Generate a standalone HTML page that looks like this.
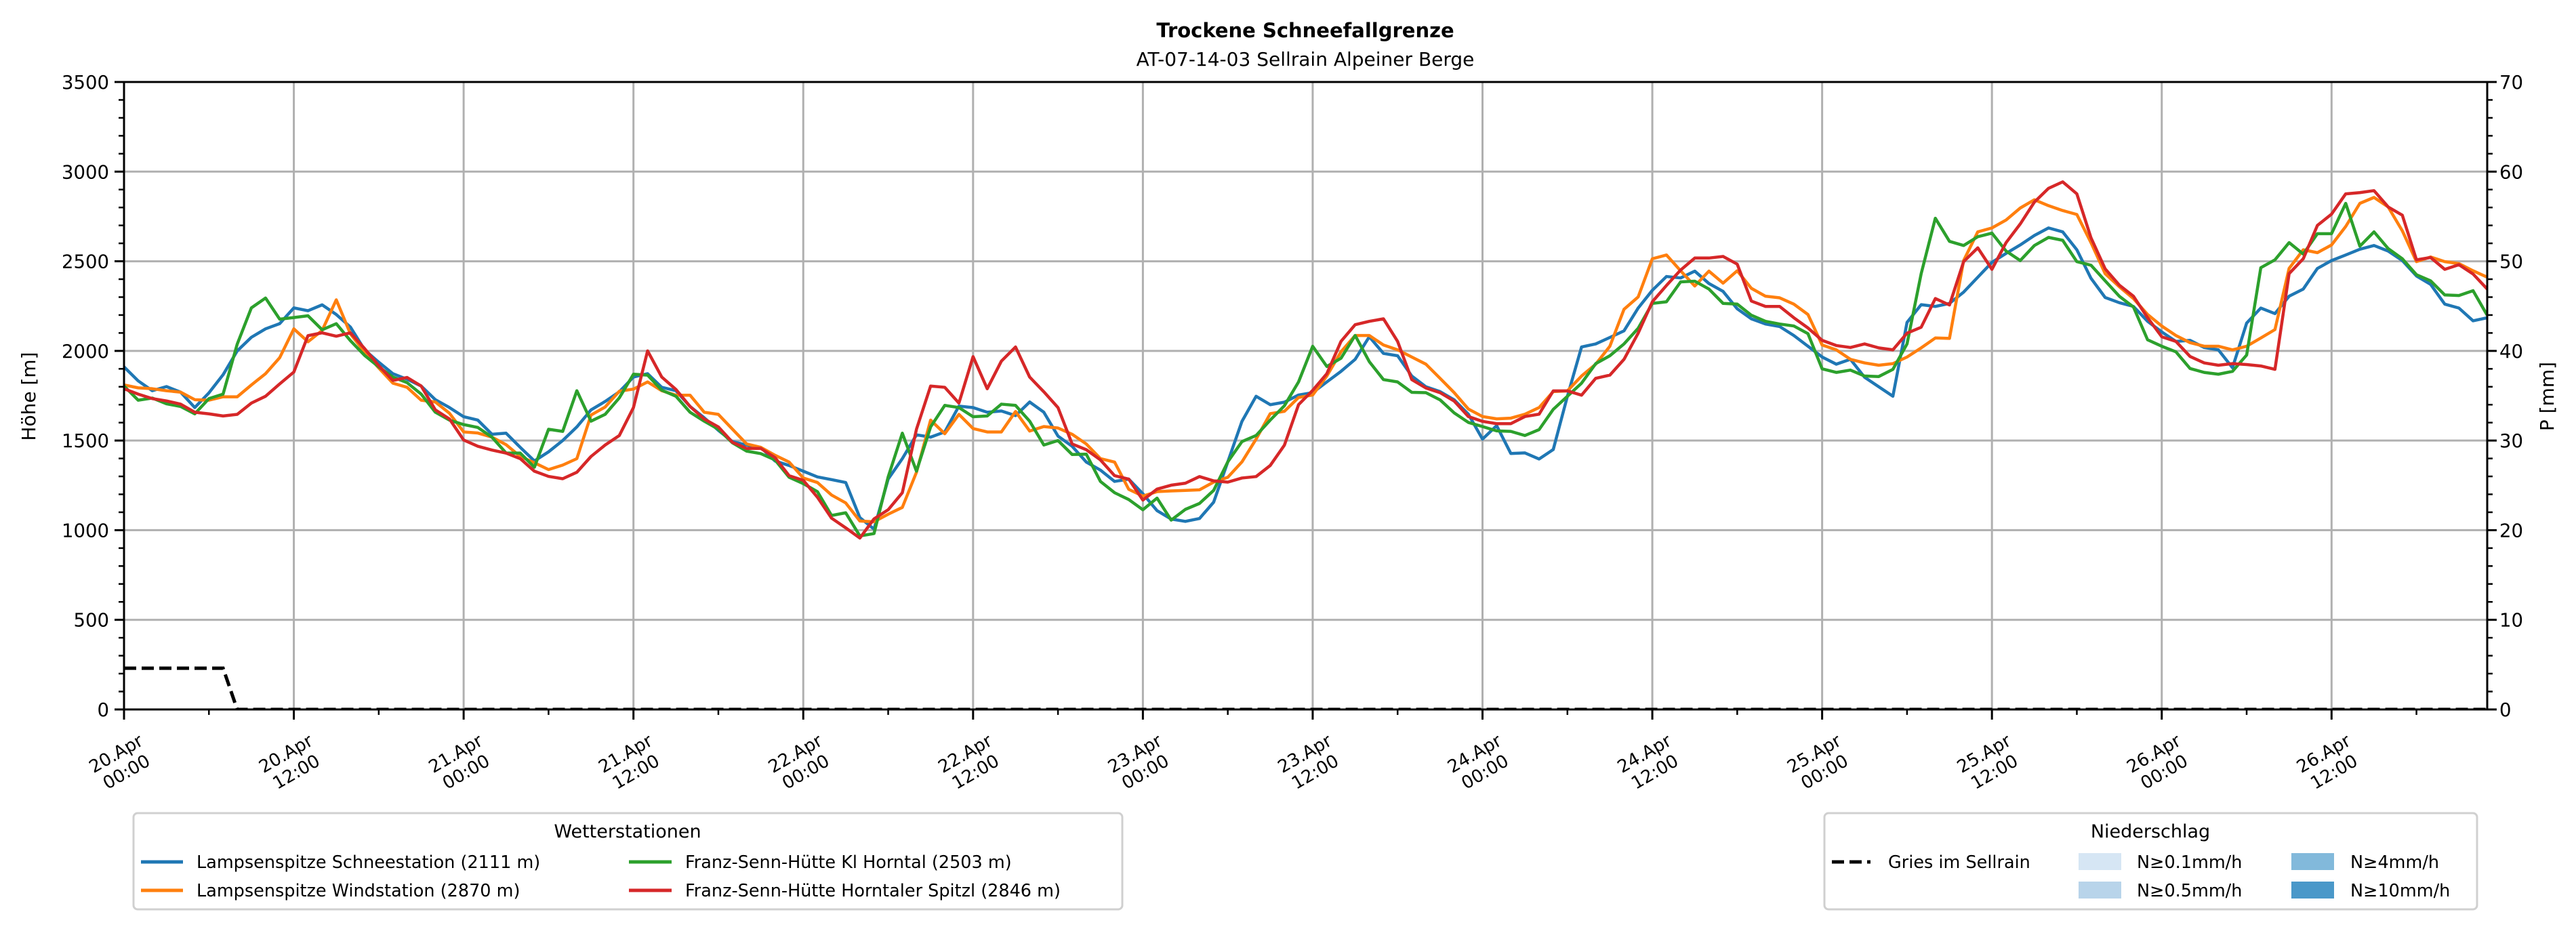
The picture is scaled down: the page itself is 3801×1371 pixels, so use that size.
<!DOCTYPE html>
<html><head><meta charset="utf-8"><style>
html,body{margin:0;padding:0;background:#fff;}
svg{display:block;font-family:"DejaVu Sans","Liberation Sans",sans-serif;}
</style></head><body>
<svg id="chart" xmlns="http://www.w3.org/2000/svg" width="3801" height="1371" viewBox="0 0 3801 1371">
<rect width="3801" height="1371" fill="#fff"/>
<text x="1926" y="55" text-anchor="middle" font-size="29" font-weight="bold">Trockene Schneefallgrenze</text>
<text x="1926" y="97" text-anchor="middle" font-size="28">AT-07-14-03 Sellrain Alpeiner Berge</text>
<g id="grid"></g>
<g id="series"></g>
<g id="axes"></g>
<text transform="translate(44,585) rotate(-90)" text-anchor="middle" dominant-baseline="middle" font-size="28">Höhe [m]</text>
<text transform="translate(3760,585) rotate(-90)" text-anchor="middle" dominant-baseline="middle" font-size="28">P [mm]</text>

<g>
<rect x="197" y="1200" width="1459" height="142" rx="6" fill="#fff" stroke="#d0d0d0" stroke-width="3"/>
<text x="926" y="1236" text-anchor="middle" font-size="27">Wetterstationen</text>
<g><line x1="208" y1="1272" x2="270" y2="1272" stroke="#1f77b4" stroke-width="5"/><text x="290" y="1281" font-size="25.5">Lampsenspitze Schneestation (2111 m)</text></g>
<g><line x1="208" y1="1314" x2="270" y2="1314" stroke="#ff7f0e" stroke-width="5"/><text x="290" y="1323" font-size="25.5">Lampsenspitze Windstation (2870 m)</text></g>
<g><line x1="928" y1="1272" x2="991" y2="1272" stroke="#2ca02c" stroke-width="5"/><text x="1011" y="1281" font-size="25.5">Franz-Senn-Hütte Kl Horntal (2503 m)</text></g>
<g><line x1="928" y1="1314" x2="991" y2="1314" stroke="#d62728" stroke-width="5"/><text x="1011" y="1323" font-size="25.5">Franz-Senn-Hütte Horntaler Spitzl (2846 m)</text></g>
</g>

<g>
<rect x="2692" y="1200" width="963" height="142" rx="6" fill="#fff" stroke="#d0d0d0" stroke-width="3"/>
<text x="3173" y="1236" text-anchor="middle" font-size="27">Niederschlag</text>
<g><line x1="2703" y1="1272" x2="2760" y2="1272" stroke="#000" stroke-width="5" stroke-dasharray="18,8"/><text x="2786" y="1281" font-size="25.5">Gries im Sellrain</text></g>
<g><rect x="3067" y="1259" width="63" height="25" fill="#d6e6f4"/><text x="3153" y="1281" font-size="25.5">N≥0.1mm/h</text></g>
<g><rect x="3067" y="1301" width="63" height="25" fill="#b8d4ea"/><text x="3153" y="1323" font-size="25.5">N≥0.5mm/h</text></g>
<g><rect x="3381" y="1259" width="63" height="25" fill="#82b9db"/><text x="3468" y="1281" font-size="25.5">N≥4mm/h</text></g>
<g><rect x="3381" y="1301" width="63" height="25" fill="#4a98c9"/><text x="3468" y="1323" font-size="25.5">N≥10mm/h</text></g>
</g>
</svg>
<script>
// hourly values starting 20.Apr 00:00
const blueSchnee = [1911,1833,1778,1801,1770,1684,1766,1867,2000,2076,2123,2152,2240,2224,2257,2203,2133,2006,1937,1873,1842,1804,1728,1684,1633,
1614,1535,1541,1462,1386,1437,1500,1576,1671,1718,1772,1854,1873,1797,1778,1690,1627,1557,1494,1475,1462,1386,1361,1329,
1297,1282,1266,1070,1006,1285,1399,1532,1519,1548,1692,1684,1658,1665,1639,1715,1658,1525,1468,1380,1335,1272,1285,1203,
1109,1062,1049,1065,1156,1381,1607,1747,1700,1714,1754,1767,1827,1886,1953,2079,1986,1973,1860,1800,1773,1727,1647,1508,
1583,1428,1431,1397,1450,1747,2022,2039,2075,2112,2239,2338,2415,2407,2445,2376,2332,2235,2179,2150,2136,2086,2026,1966,
1926,1953,1853,1800,1747,2159,2258,2248,2265,2328,2411,2494,2544,2591,2644,2686,2664,2564,2405,2298,2269,2248,2165,2106,
2053,2059,2019,2006,1906,2155,2239,2208,2305,2345,2460,2504,2535,2567,2588,2557,2504,2418,2371,2261,2239,2168,2185];
const orangeWind = [1810,1794,1789,1778,1770,1728,1725,1744,1744,1810,1873,1962,2123,2051,2114,2285,2095,1994,1905,1820,1797,1725,1715,1652,1548,
1542,1519,1477,1411,1376,1338,1363,1399,1642,1687,1775,1787,1827,1778,1753,1753,1658,1646,1563,1481,1462,1418,1380,1291,
1266,1196,1152,1051,1047,1089,1127,1323,1614,1538,1646,1567,1548,1548,1662,1553,1578,1570,1535,1481,1399,1380,1228,1190,
1215,1219,1222,1225,1268,1295,1381,1508,1650,1663,1740,1754,1860,1995,2086,2086,2033,2006,1966,1926,1847,1767,1676,1634,
1621,1625,1647,1684,1773,1777,1860,1926,2026,2232,2301,2514,2535,2447,2362,2445,2378,2447,2349,2305,2296,2261,2203,2033,
2006,1953,1933,1920,1929,1966,2017,2072,2070,2504,2664,2686,2730,2797,2843,2810,2783,2761,2604,2431,2358,2292,2203,2139,
2086,2046,2026,2026,2006,2026,2072,2119,2460,2564,2548,2591,2694,2823,2856,2803,2670,2498,2524,2498,2487,2447,2411];
const greenHorntal = [1804,1725,1737,1705,1690,1649,1734,1759,2038,2240,2295,2177,2186,2196,2118,2152,2057,1975,1911,1854,1823,1759,1658,1614,1589,
1573,1519,1430,1430,1351,1563,1551,1778,1608,1646,1738,1870,1865,1781,1747,1658,1608,1563,1487,1441,1427,1392,1295,1260,
1215,1082,1097,968,981,1297,1541,1329,1576,1696,1684,1633,1637,1703,1696,1608,1475,1500,1422,1424,1272,1209,1171,1114,
1179,1056,1116,1149,1222,1381,1494,1528,1614,1694,1827,2026,1913,1959,2086,1940,1840,1827,1769,1767,1727,1654,1601,1578,
1554,1551,1528,1561,1674,1747,1820,1929,1973,2039,2126,2265,2274,2385,2389,2345,2265,2261,2199,2165,2150,2139,2096,1900,
1880,1893,1860,1857,1897,2039,2431,2740,2611,2588,2637,2657,2557,2504,2588,2633,2617,2498,2478,2391,2305,2245,2062,2026,
1995,1902,1880,1870,1886,1977,2464,2508,2604,2540,2654,2654,2823,2584,2664,2571,2514,2425,2391,2312,2309,2336,2199];
const redSpitzl = [1789,1759,1734,1721,1703,1658,1649,1637,1646,1709,1747,1816,1882,2085,2101,2082,2101,2013,1918,1835,1852,1804,1671,1620,1503,
1468,1447,1430,1399,1329,1300,1287,1323,1411,1475,1528,1684,2000,1854,1785,1690,1620,1576,1490,1456,1456,1405,1304,1278,
1184,1067,1013,956,1063,1114,1209,1563,1804,1797,1709,1968,1789,1943,2022,1854,1772,1684,1481,1449,1392,1304,1285,1168,
1229,1251,1262,1299,1275,1268,1291,1299,1361,1474,1700,1780,1873,2053,2146,2165,2179,2053,1840,1793,1767,1720,1634,1607,
1594,1594,1634,1647,1777,1777,1753,1847,1865,1953,2099,2274,2365,2451,2518,2518,2527,2484,2278,2248,2248,2185,2128,2059,
2030,2019,2039,2017,2006,2099,2132,2292,2256,2498,2575,2455,2604,2708,2830,2907,2943,2876,2631,2458,2367,2305,2185,2079,
2053,1969,1933,1920,1929,1924,1916,1897,2431,2514,2700,2763,2876,2883,2894,2803,2757,2508,2521,2455,2481,2429,2345];
const griesHours = [0,7,8,167];
const griesValues = [230,230,0,0];
const yTicks = [0,500,1000,1500,2000,2500,3000,3500];
const y2Ticks = [0,10,20,30,40,50,60,70];
const xTickLabels = [["20.Apr","00:00"],["20.Apr","12:00"],["21.Apr","00:00"],["21.Apr","12:00"],["22.Apr","00:00"],["22.Apr","12:00"],["23.Apr","00:00"],["23.Apr","12:00"],["24.Apr","00:00"],["24.Apr","12:00"],["25.Apr","00:00"],["25.Apr","12:00"],["26.Apr","00:00"],["26.Apr","12:00"]];

const NS="http://www.w3.org/2000/svg";
const L=183,R=3670,T=121,B=1047,HMAX=167,YMAX=3500,Y2MAX=70;
const xs=h=>L+(R-L)*h/HMAX;
const ys=v=>B-(B-T)*v/YMAX;
const y2s=v=>B-(B-T)*v/Y2MAX;
function mk(tag,attrs,parent){const e=document.createElementNS(NS,tag);for(const k in attrs)e.setAttribute(k,attrs[k]);parent.appendChild(e);return e;}
const grid=document.getElementById('grid'),axes=document.getElementById('axes'),ser=document.getElementById('series');

yTicks.forEach(v=>{
  const g=mk('line',{x1:L,x2:R,y1:ys(v),y2:ys(v),stroke:'#b0b0b0','stroke-width':3},grid);
  
  
  const t=mk('line',{x1:L-14,x2:L,y1:ys(v),y2:ys(v),stroke:'#000','stroke-width':3},axes);
  
  
  const tx=mk('text',{x:L-22,y:ys(v)+10,'text-anchor':'end','font-size':27.5},axes);
  tx.textContent=v;
  
  
});
for(let v=100;v<YMAX;v+=100){ if(v%500===0)continue;
  const t=mk('line',{x1:L-8,x2:L,y1:ys(v),y2:ys(v),stroke:'#000','stroke-width':2.5},axes);
  
  
}
y2Ticks.forEach(v=>{
  const t=mk('line',{x1:R,x2:R+14,y1:y2s(v),y2:y2s(v),stroke:'#000','stroke-width':3},axes);
  
  
  const tx=mk('text',{x:R+18,y:y2s(v)+10,'font-size':27.5},axes);
  tx.textContent=v;
  
  
});
for(let v=2;v<Y2MAX;v+=2){ if(v%10===0)continue;
  const t=mk('line',{x1:R,x2:R+8,y1:y2s(v),y2:y2s(v),stroke:'#000','stroke-width':2.5},axes);
  
  
}
xTickLabels.forEach((lab,i)=>{
  const x=xs(i*12);
  const g=mk('line',{x1:x,x2:x,y1:T,y2:B,stroke:'#b0b0b0','stroke-width':3},grid);
  
  
  const t=mk('line',{x1:x,x2:x,y1:B,y2:B+15,stroke:'#000','stroke-width':3},axes);
  
  
  const tx=mk('text',{transform:`translate(${x-4},1126) rotate(-30)`,'text-anchor':'middle','font-size':26},axes);
  
  
  const a=mk('tspan',{x:0,y:-7},tx);a.textContent=lab[0];
  const b=mk('tspan',{x:0,y:24},tx);b.textContent=lab[1];
});
for(let h=6;h<HMAX;h+=12){
  const t=mk('line',{x1:xs(h),x2:xs(h),y1:B,y2:B+8,stroke:'#000','stroke-width':2.5},axes);
  
  
}
const clip=mk('clipPath',{id:'plotclip'},document.getElementById('chart'));
mk('rect',{x:L,y:T,width:R-L,height:B-T},clip);
ser.setAttribute('clip-path','url(#plotclip)');
function line(vals,color,name){
  const p=mk('polyline',{points:vals.map((v,i)=>xs(i)+','+ys(v)).join(' '),fill:'none',stroke:color,'stroke-width':4.5,'stroke-linejoin':'round'},ser);
  
  
}
line(blueSchnee,'#1f77b4','line-lampsenspitze-schnee');
line(orangeWind,'#ff7f0e','line-lampsenspitze-wind');
line(greenHorntal,'#2ca02c','line-franz-senn-kl-horntal');
line(redSpitzl,'#d62728','line-franz-senn-horntaler-spitzl');
const gp=mk('polyline',{points:griesHours.map((h,i)=>xs(h)+','+ys(griesValues[i])).join(' '),fill:'none',stroke:'#000','stroke-width':5,'stroke-dasharray':'18,8'},ser);


const frame=mk('rect',{x:L,y:T,width:R-L,height:B-T,fill:'none',stroke:'#000','stroke-width':3},axes);


</script>
</body></html>
